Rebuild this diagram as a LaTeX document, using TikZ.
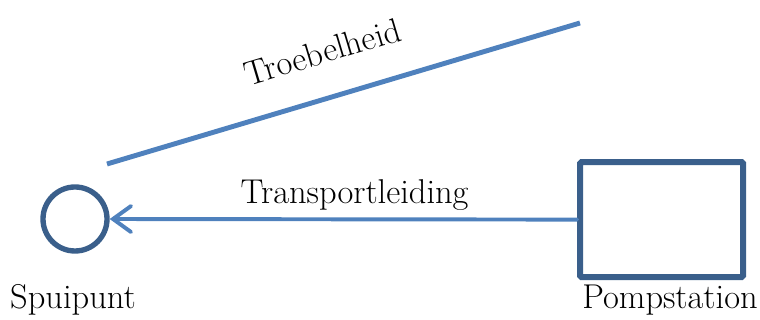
\documentclass[tikz,border=0pt]{standalone}
\usetikzlibrary{shapes, arrows.meta}
\definecolor{rand}{HTML}{3A5F8B}
\definecolor{lijn}{HTML}{4F81BD}
\tikzstyle{punt} = [circle, minimum size=1.6cm, inner sep=0pt, draw=rand, line width=3.8pt]
\tikzstyle{station} = [rectangle, rounded corners=1pt, minimum width=4.075cm, minimum height=2.875cm, inner sep=0pt, draw=rand, line width=4.2pt]
\tikzstyle{label} = [font=\fontsize{24.5}{28}\selectfont]
\tikzstyle{arrow} = [line width=2.8pt, draw=lijn, -{Straight Barb[length=4.5mm, width=6.5mm, line cap=round]}, line cap=round]

\begin{document}
\begin{tikzpicture}
    \useasboundingbox (0,0) rectangle (19,8);
    \node (spuipunt) [punt] at (1.875,2.525) {};
    \node (pomp) [station] at (16.54,2.51) {};
    \node (spuitekst) [label] at (1.825,0.5) {Spuipunt};
    \node (pomptekst) [label] at (16.75,0.5) {Pompstation};

    \draw [arrow] (pomp.west) -- node[label, pos=0.476, above=0.05cm] {Transportleiding} (spuipunt.east);

    \coordinate (troebel1) at (2.675,3.9);
    \coordinate (troebel2) at (14.5,7.425);
    \draw [line width=3.5pt, draw=lijn] (troebel1) -- node[label, sloped, pos=0.483, yshift=1.15cm] {Troebelheid} (troebel2);
\end{tikzpicture}
\end{document}
